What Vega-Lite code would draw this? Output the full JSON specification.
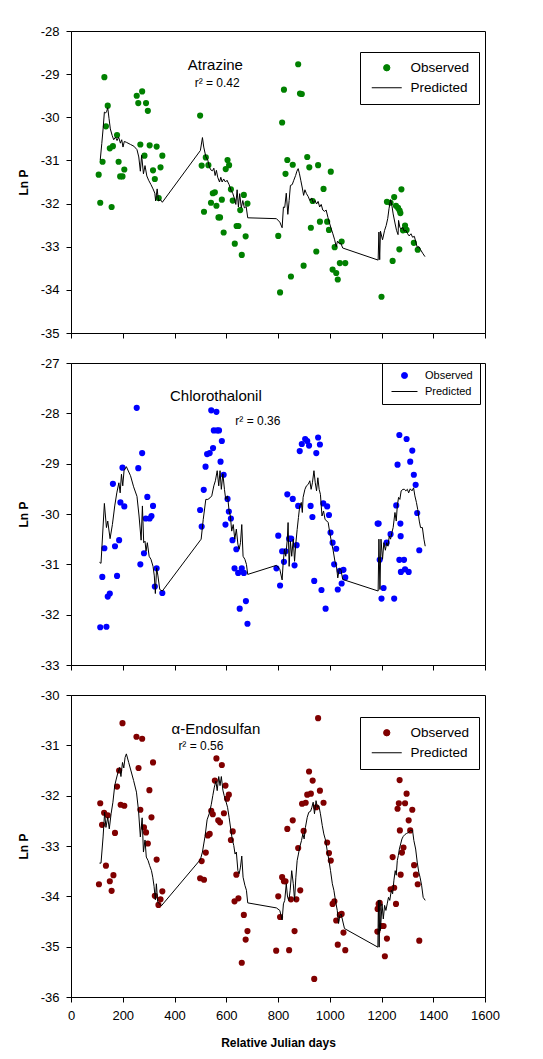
{
"$schema": "https://vega.github.io/schema/vega-lite/v6.json",
"padding": {"left": 16, "top": 24, "right": 5, "bottom": 5},
"background": "white",
"datasets": {
"ann": [
{"panel":"a","kind":"name","day":558,"lnP":-28.78,"text":"Atrazine"},
{"panel":"a","kind":"r2","day":565,"lnP":-29.21,"text":"r² = 0.42"},
{"panel":"c","kind":"name","day":560,"lnP":-27.66,"text":"Chlorothalonil"},
{"panel":"c","kind":"r2","day":722,"lnP":-28.15,"text":"r² = 0.36"},
{"panel":"e","kind":"name","day":560,"lnP":-30.68,"text":"α-Endosulfan"},
{"panel":"e","kind":"r2","day":502,"lnP":-31.01,"text":"r² = 0.56"}
],
"a_obs": [
{"day":107,"lnP":-31.33},{"day":113,"lnP":-31.98},{"day":122,"lnP":-31.03},{"day":129,"lnP":-29.07},{"day":135,"lnP":-30.21},{"day":142,"lnP":-29.73},{"day":150,"lnP":-30.72},{"day":157,"lnP":-32.08},{"day":162,"lnP":-30.67},{"day":178,"lnP":-30.41},{"day":184,"lnP":-31.03},{"day":190,"lnP":-31.37},{"day":199,"lnP":-31.37},{"day":206,"lnP":-31.21},{"day":254,"lnP":-29.5},{"day":260,"lnP":-29.67},{"day":275,"lnP":-29.4},{"day":290,"lnP":-29.67},{"day":297,"lnP":-29.85},{"day":268,"lnP":-30.63},{"day":284,"lnP":-30.89},{"day":304,"lnP":-30.65},{"day":317,"lnP":-31.23},{"day":324,"lnP":-31.43},{"day":331,"lnP":-30.68},{"day":346,"lnP":-31.16},{"day":353,"lnP":-30.89},{"day":339,"lnP":-31.87},
{"day":499,"lnP":-29.96},{"day":505,"lnP":-31.12},{"day":514,"lnP":-32.19},{"day":521,"lnP":-30.93},{"day":531,"lnP":-31.11},{"day":541,"lnP":-31.98},{"day":548,"lnP":-31.76},{"day":556,"lnP":-31.74},{"day":562,"lnP":-32.05},{"day":570,"lnP":-32.32},{"day":576,"lnP":-32.32},{"day":583,"lnP":-31.91},{"day":590,"lnP":-32.67},{"day":598,"lnP":-31.2},{"day":605,"lnP":-30.99},{"day":611,"lnP":-31.11},{"day":618,"lnP":-31.67},{"day":625,"lnP":-31.93},{"day":633,"lnP":-32.93},{"day":640,"lnP":-32.52},{"day":647,"lnP":-32.52},{"day":654,"lnP":-32.15},{"day":660,"lnP":-33.19},{"day":668,"lnP":-31.8},{"day":675,"lnP":-32.76},{"day":682,"lnP":-32.0},
{"day":801,"lnP":-32.75},{"day":808,"lnP":-34.06},{"day":816,"lnP":-30.12},{"day":823,"lnP":-29.36},{"day":829,"lnP":-31.31},{"day":836,"lnP":-30.99},{"day":850,"lnP":-33.69},{"day":857,"lnP":-31.1},{"day":878,"lnP":-28.77},{"day":885,"lnP":-29.45},{"day":892,"lnP":-29.46},{"day":899,"lnP":-33.44},{"day":913,"lnP":-30.92},{"day":921,"lnP":-31.16},{"day":927,"lnP":-32.56},{"day":934,"lnP":-31.94},{"day":948,"lnP":-33.11},{"day":955,"lnP":-31.11},{"day":962,"lnP":-32.42},{"day":976,"lnP":-31.66},{"day":990,"lnP":-32.42},{"day":997,"lnP":-32.61},{"day":1004,"lnP":-31.26},{"day":1011,"lnP":-33.53},{"day":1019,"lnP":-33.01},{"day":1025,"lnP":-33.61},{"day":1031,"lnP":-33.76},{"day":1039,"lnP":-33.38},{"day":1046,"lnP":-32.88},{"day":1060,"lnP":-33.38},
{"day":1200,"lnP":-34.16},{"day":1221,"lnP":-31.96},{"day":1235,"lnP":-31.98},{"day":1243,"lnP":-33.33},{"day":1249,"lnP":-31.85},{"day":1256,"lnP":-32.05},{"day":1264,"lnP":-32.1},{"day":1269,"lnP":-33.06},{"day":1270,"lnP":-32.16},{"day":1273,"lnP":-32.22},{"day":1277,"lnP":-31.67},{"day":1283,"lnP":-32.62},{"day":1291,"lnP":-32.51},{"day":1297,"lnP":-32.61},{"day":1325,"lnP":-32.91},{"day":1340,"lnP":-33.07}
],
"a_pred": [
{"day":113,"lnP":-30.99},{"day":119,"lnP":-30.61},{"day":124,"lnP":-30.27},{"day":129,"lnP":-29.88},{"day":134,"lnP":-29.9},{"day":138,"lnP":-29.86},{"day":142,"lnP":-29.78},{"day":147,"lnP":-30.03},{"day":152,"lnP":-30.27},{"day":159,"lnP":-30.42},{"day":165,"lnP":-30.52},{"day":172,"lnP":-30.46},{"day":178,"lnP":-30.54},{"day":184,"lnP":-30.46},{"day":191,"lnP":-30.6},{"day":196,"lnP":-30.52},{"day":201,"lnP":-30.69},{"day":206,"lnP":-30.56},{"day":214,"lnP":-30.58},{"day":230,"lnP":-30.63},{"day":243,"lnP":-30.67},{"day":255,"lnP":-30.75},{"day":262,"lnP":-30.92},{"day":268,"lnP":-31.25},{"day":273,"lnP":-30.88},{"day":280,"lnP":-31.31},{"day":286,"lnP":-31.12},{"day":293,"lnP":-31.36},{"day":300,"lnP":-31.46},{"day":309,"lnP":-31.56},{"day":317,"lnP":-31.66},{"day":324,"lnP":-31.76},{"day":327,"lnP":-31.94},{"day":333,"lnP":-31.66},{"day":338,"lnP":-31.94},{"day":346,"lnP":-31.91},{"day":353,"lnP":-31.97},
{"day":500,"lnP":-30.77},{"day":508,"lnP":-30.47},{"day":513,"lnP":-30.69},{"day":521,"lnP":-30.91},{"day":529,"lnP":-31.0},{"day":535,"lnP":-31.16},{"day":542,"lnP":-31.23},{"day":547,"lnP":-31.24},{"day":552,"lnP":-31.18},{"day":557,"lnP":-31.35},{"day":562,"lnP":-31.23},{"day":567,"lnP":-31.39},{"day":574,"lnP":-31.5},{"day":579,"lnP":-31.39},{"day":584,"lnP":-31.5},{"day":590,"lnP":-31.43},{"day":597,"lnP":-31.5},{"day":603,"lnP":-31.46},{"day":611,"lnP":-31.56},{"day":619,"lnP":-31.7},{"day":625,"lnP":-31.76},{"day":632,"lnP":-31.89},{"day":637,"lnP":-32.02},{"day":642,"lnP":-31.68},{"day":647,"lnP":-32.08},{"day":652,"lnP":-31.77},{"day":658,"lnP":-32.1},{"day":664,"lnP":-31.93},{"day":670,"lnP":-32.1},{"day":677,"lnP":-32.07},{"day":683,"lnP":-32.33},
{"day":794,"lnP":-32.35},{"day":807,"lnP":-32.43},{"day":816,"lnP":-32.56},{"day":821,"lnP":-32.08},{"day":826,"lnP":-32.09},{"day":832,"lnP":-31.76},{"day":838,"lnP":-32.25},{"day":843,"lnP":-31.93},{"day":848,"lnP":-31.58},{"day":855,"lnP":-31.56},{"day":861,"lnP":-31.46},{"day":868,"lnP":-31.35},{"day":873,"lnP":-31.25},{"day":878,"lnP":-31.19},{"day":883,"lnP":-31.31},{"day":888,"lnP":-31.46},{"day":894,"lnP":-31.64},{"day":899,"lnP":-31.81},{"day":904,"lnP":-31.68},{"day":910,"lnP":-31.77},{"day":917,"lnP":-31.84},{"day":923,"lnP":-31.93},{"day":930,"lnP":-31.87},{"day":936,"lnP":-31.98},{"day":943,"lnP":-31.93},{"day":949,"lnP":-32.01},{"day":955,"lnP":-31.95},{"day":961,"lnP":-32.08},{"day":967,"lnP":-32.02},{"day":973,"lnP":-32.15},{"day":980,"lnP":-32.18},{"day":986,"lnP":-32.15},{"day":993,"lnP":-32.32},{"day":999,"lnP":-32.45},{"day":1006,"lnP":-32.59},{"day":1012,"lnP":-32.7},{"day":1019,"lnP":-32.84},{"day":1025,"lnP":-33.0},{"day":1030,"lnP":-32.87},{"day":1037,"lnP":-32.93},{"day":1043,"lnP":-32.92},{"day":1050,"lnP":-33.03},
{"day":1187,"lnP":-33.31},{"day":1190,"lnP":-32.66},{"day":1193,"lnP":-33.3},{"day":1196,"lnP":-32.64},{"day":1204,"lnP":-32.84},{"day":1212,"lnP":-32.62},{"day":1218,"lnP":-32.51},{"day":1224,"lnP":-32.35},{"day":1229,"lnP":-32.12},{"day":1235,"lnP":-31.91},{"day":1240,"lnP":-32.04},{"day":1245,"lnP":-32.24},{"day":1252,"lnP":-32.45},{"day":1258,"lnP":-32.62},{"day":1264,"lnP":-32.72},{"day":1266,"lnP":-32.39},{"day":1271,"lnP":-32.55},{"day":1276,"lnP":-32.59},{"day":1282,"lnP":-32.55},{"day":1288,"lnP":-32.64},{"day":1294,"lnP":-32.62},{"day":1301,"lnP":-32.7},{"day":1307,"lnP":-32.75},{"day":1314,"lnP":-32.7},{"day":1320,"lnP":-32.78},{"day":1327,"lnP":-32.76},{"day":1333,"lnP":-32.9},{"day":1338,"lnP":-33.01},{"day":1345,"lnP":-33.0},{"day":1351,"lnP":-33.07},{"day":1359,"lnP":-33.15},{"day":1368,"lnP":-33.23}
],
"c_obs": [
{"day":113,"lnP":-32.25},{"day":121,"lnP":-31.25},{"day":129,"lnP":-30.68},{"day":137,"lnP":-32.24},{"day":142,"lnP":-31.64},{"day":150,"lnP":-31.58},{"day":162,"lnP":-29.4},{"day":170,"lnP":-30.64},{"day":178,"lnP":-31.23},{"day":186,"lnP":-30.52},{"day":191,"lnP":-29.77},{"day":199,"lnP":-29.08},{"day":206,"lnP":-29.85},{"day":254,"lnP":-27.89},{"day":260,"lnP":-29.09},{"day":268,"lnP":-31.0},{"day":275,"lnP":-28.79},{"day":282,"lnP":-30.78},{"day":289,"lnP":-30.09},{"day":295,"lnP":-29.66},{"day":304,"lnP":-30.09},{"day":311,"lnP":-30.04},{"day":317,"lnP":-29.84},{"day":324,"lnP":-31.44},{"day":331,"lnP":-31.08},{"day":353,"lnP":-31.57},
{"day":499,"lnP":-29.92},{"day":505,"lnP":-30.25},{"day":513,"lnP":-29.52},{"day":520,"lnP":-29.06},{"day":526,"lnP":-28.81},{"day":536,"lnP":-28.79},{"day":542,"lnP":-27.94},{"day":549,"lnP":-28.69},{"day":552,"lnP":-28.34},{"day":562,"lnP":-27.97},{"day":565,"lnP":-28.34},{"day":572,"lnP":-28.34},{"day":578,"lnP":-28.96},{"day":583,"lnP":-28.55},{"day":590,"lnP":-29.22},{"day":597,"lnP":-30.21},{"day":605,"lnP":-29.7},{"day":610,"lnP":-29.95},{"day":618,"lnP":-30.09},{"day":624,"lnP":-30.52},{"day":632,"lnP":-31.08},{"day":639,"lnP":-30.7},{"day":646,"lnP":-31.17},{"day":652,"lnP":-31.88},{"day":660,"lnP":-31.08},{"day":668,"lnP":-31.17},{"day":676,"lnP":-31.73},{"day":682,"lnP":-32.18},
{"day":794,"lnP":-31.08},{"day":801,"lnP":-30.43},{"day":808,"lnP":-31.42},{"day":816,"lnP":-30.74},{"day":823,"lnP":-30.95},{"day":829,"lnP":-30.74},{"day":836,"lnP":-29.61},{"day":843,"lnP":-30.49},{"day":851,"lnP":-30.49},{"day":857,"lnP":-29.7},{"day":864,"lnP":-31.02},{"day":872,"lnP":-30.62},{"day":878,"lnP":-29.84},{"day":884,"lnP":-28.75},{"day":892,"lnP":-28.61},{"day":905,"lnP":-28.51},{"day":913,"lnP":-28.55},{"day":920,"lnP":-28.64},{"day":926,"lnP":-29.84},{"day":933,"lnP":-30.06},{"day":940,"lnP":-31.33},{"day":948,"lnP":-28.79},{"day":955,"lnP":-28.48},{"day":962,"lnP":-28.62},{"day":968,"lnP":-31.51},{"day":975,"lnP":-29.79},{"day":984,"lnP":-31.88},{"day":990,"lnP":-29.85},{"day":997,"lnP":-30.02},{"day":1003,"lnP":-30.37},{"day":1011,"lnP":-30.57},{"day":1017,"lnP":-31.0},{"day":1025,"lnP":-30.69},{"day":1031,"lnP":-31.5},{"day":1039,"lnP":-31.13},{"day":1046,"lnP":-31.38},{"day":1053,"lnP":-31.11},{"day":1060,"lnP":-31.26},
{"day":1185,"lnP":-30.19},{"day":1189,"lnP":-30.19},{"day":1193,"lnP":-30.91},{"day":1200,"lnP":-31.68},{"day":1208,"lnP":-31.47},{"day":1220,"lnP":-30.57},{"day":1235,"lnP":-30.4},{"day":1249,"lnP":-31.68},{"day":1257,"lnP":-29.83},{"day":1262,"lnP":-29.02},{"day":1269,"lnP":-28.43},{"day":1273,"lnP":-30.19},{"day":1274,"lnP":-30.44},{"day":1269,"lnP":-30.91},{"day":1275,"lnP":-31.15},{"day":1287,"lnP":-30.91},{"day":1291,"lnP":-31.1},{"day":1297,"lnP":-28.51},{"day":1305,"lnP":-31.15},{"day":1311,"lnP":-28.96},{"day":1319,"lnP":-28.74},{"day":1325,"lnP":-29.22},{"day":1332,"lnP":-29.42},{"day":1338,"lnP":-29.98},{"day":1346,"lnP":-30.72}
],
"c_pred": [
{"day":110,"lnP":-30.96},{"day":116,"lnP":-30.98},{"day":129,"lnP":-29.79},{"day":137,"lnP":-30.27},{"day":142,"lnP":-30.14},{"day":151,"lnP":-30.49},{"day":160,"lnP":-30.21},{"day":169,"lnP":-29.84},{"day":177,"lnP":-29.58},{"day":185,"lnP":-29.38},{"day":190,"lnP":-29.58},{"day":195,"lnP":-29.21},{"day":200,"lnP":-29.44},{"day":205,"lnP":-29.14},{"day":214,"lnP":-29.06},{"day":230,"lnP":-29.24},{"day":242,"lnP":-29.46},{"day":255,"lnP":-29.65},{"day":263,"lnP":-30.04},{"day":271,"lnP":-30.52},{"day":276,"lnP":-29.84},{"day":281,"lnP":-30.57},{"day":286,"lnP":-30.54},{"day":290,"lnP":-30.74},{"day":295,"lnP":-30.57},{"day":302,"lnP":-30.84},{"day":309,"lnP":-30.9},{"day":317,"lnP":-31.04},{"day":322,"lnP":-31.23},{"day":326,"lnP":-31.58},{"day":331,"lnP":-31.07},{"day":336,"lnP":-31.23},{"day":343,"lnP":-31.5},{"day":353,"lnP":-31.53},
{"day":503,"lnP":-30.5},{"day":511,"lnP":-30.11},{"day":521,"lnP":-29.71},{"day":529,"lnP":-29.71},{"day":537,"lnP":-29.68},{"day":544,"lnP":-29.64},{"day":552,"lnP":-29.44},{"day":558,"lnP":-29.34},{"day":565,"lnP":-29.14},{"day":571,"lnP":-29.44},{"day":576,"lnP":-29.14},{"day":581,"lnP":-29.51},{"day":587,"lnP":-29.2},{"day":593,"lnP":-29.51},{"day":598,"lnP":-29.71},{"day":605,"lnP":-29.64},{"day":611,"lnP":-29.94},{"day":616,"lnP":-30.04},{"day":621,"lnP":-30.34},{"day":627,"lnP":-30.21},{"day":633,"lnP":-30.5},{"day":639,"lnP":-30.3},{"day":645,"lnP":-30.6},{"day":650,"lnP":-30.7},{"day":655,"lnP":-30.57},{"day":660,"lnP":-30.21},{"day":665,"lnP":-30.84},{"day":672,"lnP":-30.9},{"day":678,"lnP":-31.0},{"day":683,"lnP":-31.2},
{"day":794,"lnP":-31.02},{"day":807,"lnP":-31.1},{"day":816,"lnP":-31.31},{"day":820,"lnP":-30.97},{"day":825,"lnP":-30.7},{"day":830,"lnP":-30.84},{"day":836,"lnP":-30.5},{"day":839,"lnP":-30.17},{"day":843,"lnP":-31.04},{"day":848,"lnP":-30.54},{"day":853,"lnP":-30.84},{"day":859,"lnP":-30.5},{"day":864,"lnP":-30.94},{"day":869,"lnP":-30.58},{"day":874,"lnP":-30.31},{"day":879,"lnP":-30.07},{"day":884,"lnP":-29.84},{"day":890,"lnP":-29.77},{"day":894,"lnP":-29.97},{"day":897,"lnP":-29.67},{"day":904,"lnP":-29.51},{"day":910,"lnP":-29.44},{"day":917,"lnP":-29.41},{"day":923,"lnP":-29.34},{"day":928,"lnP":-29.51},{"day":933,"lnP":-29.38},{"day":939,"lnP":-29.14},{"day":944,"lnP":-29.38},{"day":949,"lnP":-29.54},{"day":954,"lnP":-29.28},{"day":959,"lnP":-29.51},{"day":964,"lnP":-29.61},{"day":970,"lnP":-30.04},{"day":976,"lnP":-29.94},{"day":982,"lnP":-30.11},{"day":989,"lnP":-30.14},{"day":994,"lnP":-30.17},{"day":1000,"lnP":-30.37},{"day":1007,"lnP":-30.57},{"day":1013,"lnP":-30.72},{"day":1020,"lnP":-30.94},{"day":1026,"lnP":-31.04},{"day":1031,"lnP":-31.27},{"day":1037,"lnP":-31.09},{"day":1043,"lnP":-31.1},{"day":1050,"lnP":-31.3},
{"day":1187,"lnP":-31.53},{"day":1190,"lnP":-30.5},{"day":1194,"lnP":-31.5},{"day":1198,"lnP":-30.5},{"day":1204,"lnP":-30.9},{"day":1209,"lnP":-30.57},{"day":1215,"lnP":-30.72},{"day":1220,"lnP":-30.57},{"day":1225,"lnP":-30.64},{"day":1230,"lnP":-30.44},{"day":1235,"lnP":-30.5},{"day":1240,"lnP":-30.37},{"day":1245,"lnP":-30.27},{"day":1252,"lnP":-29.97},{"day":1257,"lnP":-30.14},{"day":1261,"lnP":-29.84},{"day":1266,"lnP":-29.67},{"day":1271,"lnP":-29.71},{"day":1276,"lnP":-29.54},{"day":1283,"lnP":-29.51},{"day":1289,"lnP":-29.51},{"day":1294,"lnP":-29.54},{"day":1300,"lnP":-29.51},{"day":1305,"lnP":-29.58},{"day":1311,"lnP":-29.5},{"day":1318,"lnP":-29.54},{"day":1324,"lnP":-29.48},{"day":1329,"lnP":-29.64},{"day":1335,"lnP":-29.77},{"day":1340,"lnP":-29.91},{"day":1346,"lnP":-30.14},{"day":1351,"lnP":-30.27},{"day":1358,"lnP":-30.27},{"day":1364,"lnP":-30.5},{"day":1369,"lnP":-30.64}
],
"e_obs": [
{"day":108,"lnP":-33.76},{"day":113,"lnP":-32.15},{"day":120,"lnP":-32.58},{"day":128,"lnP":-32.34},{"day":135,"lnP":-33.39},{"day":142,"lnP":-32.39},{"day":150,"lnP":-33.7},{"day":157,"lnP":-33.89},{"day":164,"lnP":-33.58},{"day":170,"lnP":-32.74},{"day":178,"lnP":-31.82},{"day":186,"lnP":-31.5},{"day":192,"lnP":-32.18},{"day":199,"lnP":-30.56},{"day":206,"lnP":-32.2},{"day":253,"lnP":-30.83},{"day":261,"lnP":-31.45},{"day":268,"lnP":-32.28},{"day":275,"lnP":-30.87},{"day":282,"lnP":-32.63},{"day":290,"lnP":-32.73},{"day":297,"lnP":-32.95},{"day":303,"lnP":-31.89},{"day":311,"lnP":-32.43},{"day":317,"lnP":-31.34},{"day":324,"lnP":-33.99},{"day":331,"lnP":-33.27},{"day":338,"lnP":-34.17},{"day":346,"lnP":-34.06},{"day":353,"lnP":-33.9},
{"day":499,"lnP":-33.64},{"day":505,"lnP":-33.3},{"day":514,"lnP":-33.67},{"day":521,"lnP":-33.13},{"day":529,"lnP":-32.79},{"day":536,"lnP":-32.76},{"day":542,"lnP":-32.3},{"day":548,"lnP":-32.37},{"day":556,"lnP":-31.7},{"day":562,"lnP":-31.26},{"day":569,"lnP":-32.49},{"day":576,"lnP":-32.53},{"day":583,"lnP":-31.39},{"day":591,"lnP":-32.35},{"day":597,"lnP":-31.8},{"day":603,"lnP":-32.06},{"day":610,"lnP":-31.98},{"day":618,"lnP":-32.88},{"day":625,"lnP":-32.71},{"day":632,"lnP":-34.1},{"day":639,"lnP":-33.57},{"day":647,"lnP":-34.04},{"day":660,"lnP":-35.32},{"day":668,"lnP":-34.37},{"day":675,"lnP":-34.86},{"day":682,"lnP":-34.69},
{"day":793,"lnP":-35.08},{"day":801,"lnP":-34.0},{"day":808,"lnP":-34.41},{"day":816,"lnP":-33.62},{"day":823,"lnP":-33.7},{"day":829,"lnP":-33.7},{"day":836,"lnP":-32.66},{"day":843,"lnP":-35.07},{"day":850,"lnP":-34.06},{"day":857,"lnP":-32.49},{"day":864,"lnP":-34.69},{"day":871,"lnP":-34.06},{"day":878,"lnP":-33.04},{"day":886,"lnP":-33.88},{"day":893,"lnP":-32.16},{"day":899,"lnP":-32.7},{"day":907,"lnP":-32.14},{"day":913,"lnP":-31.98},{"day":920,"lnP":-31.52},{"day":927,"lnP":-31.96},{"day":934,"lnP":-31.7},{"day":940,"lnP":-35.64},{"day":948,"lnP":-32.23},{"day":955,"lnP":-30.46},{"day":962,"lnP":-31.9},{"day":976,"lnP":-32.14},{"day":990,"lnP":-32.93},{"day":997,"lnP":-33.14},{"day":1004,"lnP":-33.29},{"day":1011,"lnP":-34.15},{"day":1018,"lnP":-34.1},{"day":1025,"lnP":-34.48},{"day":1031,"lnP":-34.96},{"day":1039,"lnP":-34.37},{"day":1046,"lnP":-34.35},{"day":1053,"lnP":-34.72},{"day":1060,"lnP":-35.07},
{"day":1184,"lnP":-34.7},{"day":1185,"lnP":-34.25},{"day":1189,"lnP":-34.15},{"day":1193,"lnP":-34.13},{"day":1200,"lnP":-34.59},{"day":1208,"lnP":-34.59},{"day":1213,"lnP":-35.19},{"day":1221,"lnP":-34.84},{"day":1235,"lnP":-33.86},{"day":1243,"lnP":-33.22},{"day":1249,"lnP":-33.83},{"day":1256,"lnP":-34.15},{"day":1262,"lnP":-32.26},{"day":1267,"lnP":-32.15},{"day":1270,"lnP":-31.69},{"day":1271,"lnP":-32.69},{"day":1274,"lnP":-33.57},{"day":1279,"lnP":-33.13},{"day":1285,"lnP":-33.03},{"day":1291,"lnP":-32.15},{"day":1297,"lnP":-31.96},{"day":1305,"lnP":-32.49},{"day":1311,"lnP":-32.69},{"day":1319,"lnP":-32.28},{"day":1326,"lnP":-33.38},{"day":1333,"lnP":-33.57},{"day":1340,"lnP":-33.76},{"day":1346,"lnP":-34.88}
],
"e_pred": [
{"day":110,"lnP":-33.34},{"day":116,"lnP":-33.34},{"day":124,"lnP":-32.82},{"day":130,"lnP":-32.33},{"day":135,"lnP":-32.63},{"day":142,"lnP":-32.43},{"day":148,"lnP":-32.66},{"day":155,"lnP":-32.36},{"day":162,"lnP":-32.13},{"day":169,"lnP":-31.8},{"day":175,"lnP":-31.67},{"day":182,"lnP":-31.53},{"day":188,"lnP":-31.44},{"day":193,"lnP":-31.62},{"day":199,"lnP":-31.34},{"day":204,"lnP":-31.45},{"day":209,"lnP":-31.24},{"day":214,"lnP":-31.17},{"day":223,"lnP":-31.34},{"day":232,"lnP":-31.51},{"day":242,"lnP":-31.7},{"day":253,"lnP":-31.93},{"day":261,"lnP":-32.3},{"day":268,"lnP":-32.82},{"day":275,"lnP":-32.44},{"day":280,"lnP":-33.12},{"day":286,"lnP":-32.88},{"day":291,"lnP":-33.22},{"day":298,"lnP":-33.29},{"day":304,"lnP":-33.39},{"day":311,"lnP":-33.49},{"day":316,"lnP":-33.62},{"day":321,"lnP":-33.8},{"day":326,"lnP":-34.07},{"day":330,"lnP":-33.75},{"day":335,"lnP":-34.11},{"day":342,"lnP":-34.15},{"day":349,"lnP":-34.19},
{"day":500,"lnP":-33.27},{"day":508,"lnP":-33.12},{"day":513,"lnP":-32.96},{"day":518,"lnP":-32.81},{"day":526,"lnP":-32.48},{"day":534,"lnP":-32.36},{"day":542,"lnP":-32.18},{"day":548,"lnP":-32.0},{"day":554,"lnP":-31.83},{"day":560,"lnP":-31.71},{"day":565,"lnP":-31.9},{"day":571,"lnP":-31.62},{"day":576,"lnP":-31.8},{"day":581,"lnP":-31.62},{"day":587,"lnP":-31.89},{"day":592,"lnP":-32.0},{"day":598,"lnP":-32.1},{"day":605,"lnP":-32.23},{"day":611,"lnP":-32.43},{"day":618,"lnP":-32.69},{"day":623,"lnP":-32.86},{"day":629,"lnP":-32.99},{"day":634,"lnP":-33.16},{"day":639,"lnP":-33.12},{"day":645,"lnP":-33.49},{"day":650,"lnP":-33.55},{"day":655,"lnP":-33.42},{"day":660,"lnP":-33.2},{"day":665,"lnP":-33.62},{"day":672,"lnP":-33.78},{"day":678,"lnP":-33.88},{"day":683,"lnP":-34.13},
{"day":794,"lnP":-34.23},{"day":807,"lnP":-34.28},{"day":816,"lnP":-34.47},{"day":821,"lnP":-34.15},{"day":826,"lnP":-34.08},{"day":832,"lnP":-33.75},{"day":837,"lnP":-34.02},{"day":842,"lnP":-34.08},{"day":847,"lnP":-33.88},{"day":853,"lnP":-33.49},{"day":859,"lnP":-33.75},{"day":864,"lnP":-34.08},{"day":869,"lnP":-33.62},{"day":874,"lnP":-33.29},{"day":879,"lnP":-33.16},{"day":884,"lnP":-33.02},{"day":891,"lnP":-32.89},{"day":896,"lnP":-32.76},{"day":901,"lnP":-32.86},{"day":906,"lnP":-32.63},{"day":913,"lnP":-32.43},{"day":919,"lnP":-32.33},{"day":926,"lnP":-32.31},{"day":931,"lnP":-32.23},{"day":936,"lnP":-32.13},{"day":941,"lnP":-32.36},{"day":947,"lnP":-32.1},{"day":952,"lnP":-32.23},{"day":958,"lnP":-32.2},{"day":964,"lnP":-32.36},{"day":971,"lnP":-32.59},{"day":977,"lnP":-32.76},{"day":984,"lnP":-32.89},{"day":990,"lnP":-33.09},{"day":997,"lnP":-33.29},{"day":1003,"lnP":-33.49},{"day":1010,"lnP":-33.75},{"day":1016,"lnP":-33.88},{"day":1022,"lnP":-34.08},{"day":1029,"lnP":-34.28},{"day":1034,"lnP":-34.54},{"day":1039,"lnP":-34.38},{"day":1044,"lnP":-34.35},{"day":1051,"lnP":-34.51},{"day":1057,"lnP":-34.64},
{"day":1186,"lnP":-35.01},{"day":1188,"lnP":-34.08},{"day":1191,"lnP":-35.01},{"day":1194,"lnP":-34.08},{"day":1196,"lnP":-34.68},{"day":1202,"lnP":-34.15},{"day":1207,"lnP":-34.45},{"day":1212,"lnP":-34.18},{"day":1217,"lnP":-34.28},{"day":1222,"lnP":-34.15},{"day":1227,"lnP":-34.02},{"day":1232,"lnP":-34.08},{"day":1238,"lnP":-33.88},{"day":1243,"lnP":-33.95},{"day":1248,"lnP":-33.68},{"day":1253,"lnP":-33.49},{"day":1257,"lnP":-33.58},{"day":1261,"lnP":-33.29},{"day":1265,"lnP":-33.19},{"day":1269,"lnP":-33.06},{"day":1274,"lnP":-32.96},{"day":1279,"lnP":-32.86},{"day":1284,"lnP":-32.81},{"day":1291,"lnP":-32.77},{"day":1297,"lnP":-32.75},{"day":1305,"lnP":-32.73},{"day":1312,"lnP":-32.69},{"day":1320,"lnP":-32.69},{"day":1325,"lnP":-32.89},{"day":1332,"lnP":-33.06},{"day":1338,"lnP":-33.32},{"day":1344,"lnP":-33.52},{"day":1349,"lnP":-33.62},{"day":1355,"lnP":-33.78},{"day":1361,"lnP":-34.02},{"day":1369,"lnP":-34.08}
]
},
"vconcat": [
{
"width": 414, "height": 302,
"encoding": {
"x": {"field": "day", "type": "quantitative", "scale": {"domain": [0, 1600], "nice": false, "zero": false}, "axis": {"values": [0,200,400,600,800,1000,1200,1400,1600], "labels": false, "title": null}},
"y": {"field": "lnP", "type": "quantitative", "scale": {"domain": [-35, -28], "nice": false, "zero": false}, "axis": {"values": [-35,-34,-33,-32,-31,-30,-29,-28], "labelExpr": "'' + datum.value", "title": "Ln P"}}
},
"layer": [
{"data": {"name": "a_obs"}, "mark": {"type": "point", "filled": true, "size": 38, "opacity": 1, "color": "#008000", "strokeWidth": 0},
 "encoding": {
  "shape": {"datum": "Observed", "scale": {"domain": ["Observed", "Predicted"], "range": ["circle", "M-4.74,0H4.74"]},
   "legend": {"title": null, "orient": "none", "legendX": 289, "legendY": 21, "strokeColor": "black", "padding": 9, "labelFontSize": 13.5, "symbolSize": 40, "symbolOffset": 11, "labelOffset": 17, "rowPadding": 5, "symbolStrokeWidth": 1,
    "encode": {"symbols": {"fill": {"value": "#008000"}, "opacity": {"value": 1}}}}},
  "stroke": {"datum": "Observed", "scale": {"domain": ["Observed", "Predicted"], "range": ["#008000", "#000000"]},
   "legend": {"title": null, "orient": "none", "legendX": 289, "legendY": 21, "strokeColor": "black", "padding": 9, "labelFontSize": 13.5, "symbolSize": 40, "symbolOffset": 11, "labelOffset": 17, "rowPadding": 5, "symbolStrokeWidth": 1,
    "encode": {"symbols": {"fill": {"value": "#008000"}, "opacity": {"value": 1}}}}}
 }},
{"data": {"name": "a_pred"}, "mark": {"type": "line", "strokeWidth": 1, "color": "black"}},
{"data": {"name": "ann"}, "transform": [{"filter": "datum.panel === 'a' && datum.kind === 'name'"}], "mark": {"type": "text", "fontSize": 15, "align": "center", "baseline": "middle", "color": "black"}, "encoding": {"text": {"field": "text"}}},
{"data": {"name": "ann"}, "transform": [{"filter": "datum.panel === 'a' && datum.kind === 'r2'"}], "mark": {"type": "text", "fontSize": 12, "align": "center", "baseline": "middle", "color": "black"}, "encoding": {"text": {"field": "text"}}}
]
},
{
"width": 414, "height": 302,
"encoding": {
"x": {"field": "day", "type": "quantitative", "scale": {"domain": [0, 1600], "nice": false, "zero": false}, "axis": {"values": [0,200,400,600,800,1000,1200,1400,1600], "labels": false, "title": null}},
"y": {"field": "lnP", "type": "quantitative", "scale": {"domain": [-33, -27], "nice": false, "zero": false}, "axis": {"values": [-33,-32,-31,-30,-29,-28,-27], "labelExpr": "'' + datum.value", "title": "Ln P"}}
},
"layer": [
{"data": {"name": "c_obs"}, "mark": {"type": "point", "filled": true, "size": 38, "opacity": 1, "color": "#0000FF", "strokeWidth": 0},
 "encoding": {
  "shape": {"datum": "Observed", "scale": {"domain": ["Observed", "Predicted"], "range": ["circle", "M-4.33,0H4.33"]},
   "legend": {"title": null, "orient": "none", "legendX": 311, "legendY": 0, "strokeColor": "black", "padding": 7, "labelFontSize": 11, "symbolSize": 36, "symbolOffset": 10, "labelOffset": 15, "rowPadding": 4, "symbolStrokeWidth": 1,
    "encode": {"symbols": {"fill": {"value": "#0000FF"}, "opacity": {"value": 1}}}}},
  "stroke": {"datum": "Observed", "scale": {"domain": ["Observed", "Predicted"], "range": ["#0000FF", "#000000"]},
   "legend": {"title": null, "orient": "none", "legendX": 311, "legendY": 0, "strokeColor": "black", "padding": 7, "labelFontSize": 11, "symbolSize": 36, "symbolOffset": 10, "labelOffset": 15, "rowPadding": 4, "symbolStrokeWidth": 1,
    "encode": {"symbols": {"fill": {"value": "#0000FF"}, "opacity": {"value": 1}}}}}
 }},
{"data": {"name": "c_pred"}, "mark": {"type": "line", "strokeWidth": 1, "color": "black"}},
{"data": {"name": "ann"}, "transform": [{"filter": "datum.panel === 'c' && datum.kind === 'name'"}], "mark": {"type": "text", "fontSize": 15, "align": "center", "baseline": "middle", "color": "black"}, "encoding": {"text": {"field": "text"}}},
{"data": {"name": "ann"}, "transform": [{"filter": "datum.panel === 'c' && datum.kind === 'r2'"}], "mark": {"type": "text", "fontSize": 12, "align": "center", "baseline": "middle", "color": "black"}, "encoding": {"text": {"field": "text"}}}
]
},
{
"width": 414, "height": 302,
"encoding": {
"x": {"field": "day", "type": "quantitative", "scale": {"domain": [0, 1600], "nice": false, "zero": false}, "axis": {"values": [0,200,400,600,800,1000,1200,1400,1600], "labelExpr": "'' + datum.value", "title": "Relative Julian days", "labelPadding": 7, "titlePadding": 15}},
"y": {"field": "lnP", "type": "quantitative", "scale": {"domain": [-36, -30], "nice": false, "zero": false}, "axis": {"values": [-36,-35,-34,-33,-32,-31,-30], "labelExpr": "'' + datum.value", "title": "Ln P"}}
},
"layer": [
{"data": {"name": "e_obs"}, "mark": {"type": "point", "filled": true, "size": 38, "opacity": 1, "color": "#800000", "strokeWidth": 0},
 "encoding": {
  "shape": {"datum": "Observed", "scale": {"domain": ["Observed", "Predicted"], "range": ["circle", "M-4.74,0H4.74"]},
   "legend": {"title": null, "orient": "none", "legendX": 289, "legendY": 22, "strokeColor": "black", "padding": 9, "labelFontSize": 13.5, "symbolSize": 40, "symbolOffset": 11, "labelOffset": 17, "rowPadding": 5, "symbolStrokeWidth": 1,
    "encode": {"symbols": {"fill": {"value": "#800000"}, "opacity": {"value": 1}}}}},
  "stroke": {"datum": "Observed", "scale": {"domain": ["Observed", "Predicted"], "range": ["#800000", "#000000"]},
   "legend": {"title": null, "orient": "none", "legendX": 289, "legendY": 22, "strokeColor": "black", "padding": 9, "labelFontSize": 13.5, "symbolSize": 40, "symbolOffset": 11, "labelOffset": 17, "rowPadding": 5, "symbolStrokeWidth": 1,
    "encode": {"symbols": {"fill": {"value": "#800000"}, "opacity": {"value": 1}}}}}
 }},
{"data": {"name": "e_pred"}, "mark": {"type": "line", "strokeWidth": 1, "color": "black"}},
{"data": {"name": "ann"}, "transform": [{"filter": "datum.panel === 'e' && datum.kind === 'name'"}], "mark": {"type": "text", "fontSize": 15, "align": "center", "baseline": "middle", "color": "black"}, "encoding": {"text": {"field": "text"}}},
{"data": {"name": "ann"}, "transform": [{"filter": "datum.panel === 'e' && datum.kind === 'r2'"}], "mark": {"type": "text", "fontSize": 12, "align": "center", "baseline": "middle", "color": "black"}, "encoding": {"text": {"field": "text"}}}
]
}
],
"spacing": 15,
"resolve": {"scale": {"shape": "independent", "stroke": "independent"}, "legend": {"shape": "independent", "stroke": "independent"}},
"config": {
"font": "Liberation Sans",
"view": {"stroke": "black", "strokeWidth": 1},
"axis": {"domainColor": "black", "tickColor": "black", "labelColor": "black", "titleColor": "black", "labelFontSize": 13, "labelFont": "Liberation Sans", "titleFont": "Liberation Sans", "titleFontSize": 12, "titleFontWeight": "bold", "grid": false, "tickSize": 5, "labelPadding": 7, "titlePadding": 10, "labelFlush": false},
"legend": {"labelFont": "Liberation Sans", "labelColor": "black"}
}
}
